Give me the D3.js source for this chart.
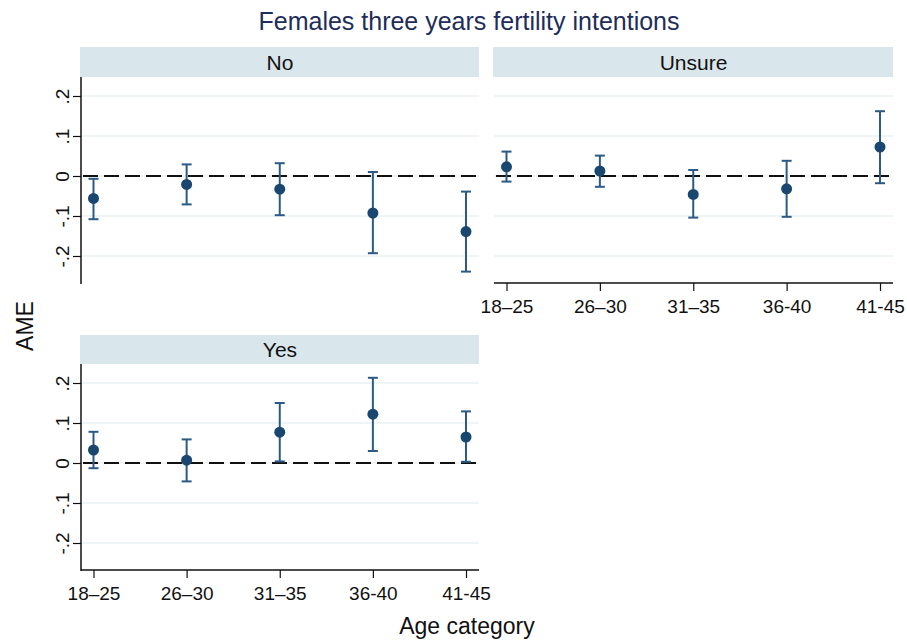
<!DOCTYPE html>
<html><head><meta charset="utf-8">
<script src="https://cdn.jsdelivr.net/npm/d3@7"></script>
<style>body{margin:0;background:#fff}svg{display:block}text{font-family:"Liberation Sans",Arial,sans-serif}</style>
</head><body><svg id="c" width="907" height="644"></svg>
<script>
const categories = ["18–25","26–30","31–35","36-40","41-45"];
const panels = ["No","Unsure","Yes"];
const ameNo = [-0.056,-0.021,-0.033,-0.0925,-0.139];
const loNo = [-0.108,-0.071,-0.098,-0.193,-0.239];
const hiNo = [-0.007,0.029,0.032,0.010,-0.039];
const ameUnsure = [0.023,0.0125,-0.046,-0.032,0.0725];
const loUnsure = [-0.014,-0.027,-0.104,-0.102,-0.018];
const hiUnsure = [0.061,0.051,0.015,0.038,0.162];
const ameYes = [0.0325,0.007,0.077,0.122,0.065];
const loYes = [-0.013,-0.046,0.004,0.030,0.003];
const hiYes = [0.078,0.059,0.150,0.213,0.129];
const yTicks = [-0.2,-0.1,0,0.1,0.2];
const yTickLabels = ["-.2","-.1","0",".1",".2"];

const svg = d3.select("#c");
const data = {
  "No": categories.map((c,i)=>({c, v:ameNo[i], lo:loNo[i], hi:hiNo[i]})),
  "Unsure": categories.map((c,i)=>({c, v:ameUnsure[i], lo:loUnsure[i], hi:hiUnsure[i]})),
  "Yes": categories.map((c,i)=>({c, v:ameYes[i], lo:loYes[i], hi:hiYes[i]}))
};
const layout = {
  "No": {x0:81, x1:479, sy:47, y0:77, y1:283, yAxis:true, xAxis:false},
  "Unsure": {x0:494, x1:893, sy:47, y0:77, y1:283, yAxis:false, xAxis:true},
  "Yes": {x0:81, x1:479, sy:335, y0:364, y1:570, yAxis:true, xAxis:true}
};

svg.append("text").attr("x",469).attr("y",30).attr("text-anchor","middle")
  .attr("font-size",25).attr("fill","#1e2d5a").text("Females three years fertility intentions");

panels.forEach(p=>{
  const L = layout[p];
  const g = svg.append("g");
  const x = d3.scalePoint().domain(categories).range([L.x0+12.5, L.x1-13]);
  const y = d3.scaleLinear().domain([-0.2675,0.2475]).range([L.y1, L.y0]);
  // strip
  g.append("rect").attr("x",L.x0-1).attr("y",L.sy).attr("width",L.x1-L.x0+1).attr("height",L.y0-L.sy).attr("fill","#d9e6ec");
  g.append("text").attr("x",(L.x0+L.x1)/2).attr("y",(L.sy+L.y0)/2+7.5).attr("text-anchor","middle")
    .attr("font-size",21).attr("fill","#111").text(p);
  // grid
  g.selectAll(".grid").data(yTicks).join("line")
    .attr("x1",L.x0).attr("x2",L.x1).attr("y1",d=>y(d)).attr("y2",d=>y(d))
    .attr("stroke","#eaf2f3").attr("stroke-width",1.5);
  // y axis
  if (L.yAxis) {
    const ya = g.append("g").attr("transform",`translate(${L.x0},0)`)
      .call(d3.axisLeft(y).tickValues(yTicks).tickSize(8).tickFormat((d,i)=>yTickLabels[i]));
    ya.select(".domain").attr("d",`M0,${L.y0}V${L.y1+1}`).attr("stroke","#111").attr("stroke-width",1.5);
    ya.selectAll(".tick line").attr("stroke","#111").attr("stroke-width",1.2);
    ya.selectAll(".tick text").attr("font-size",19).attr("fill","#111")
      .attr("x",0).attr("y",0).attr("dy",null).attr("text-anchor","middle")
      .attr("transform","translate(-12,0) rotate(-90)");
  }
  // x axis
  if (L.xAxis) {
    const xa = g.append("g").attr("transform",`translate(0,${L.y1})`)
      .call(d3.axisBottom(x).tickSize(8).tickPadding(9));
    xa.select(".domain").attr("d",`M${L.x0},0H${L.x1}`).attr("stroke","#111").attr("stroke-width",1.5);
    xa.selectAll(".tick line").attr("stroke","#111").attr("stroke-width",1.2);
    xa.selectAll(".tick text").attr("font-size",19).attr("fill","#111");
  }
  // zero line
  g.append("line").attr("x1",L.x0+2).attr("x2",L.x1).attr("y1",y(0)).attr("y2",y(0))
    .attr("stroke","#111").attr("stroke-width",2).attr("stroke-dasharray","15,6");
  // error bars
  const eb = g.selectAll(".eb").data(data[p]).join("g").attr("stroke","#2b5a85").attr("stroke-width",2);
  eb.append("line").attr("x1",d=>x(d.c)).attr("x2",d=>x(d.c)).attr("y1",d=>y(d.lo)).attr("y2",d=>y(d.hi));
  eb.append("line").attr("x1",d=>x(d.c)-5).attr("x2",d=>x(d.c)+5).attr("y1",d=>y(d.lo)).attr("y2",d=>y(d.lo));
  eb.append("line").attr("x1",d=>x(d.c)-5).attr("x2",d=>x(d.c)+5).attr("y1",d=>y(d.hi)).attr("y2",d=>y(d.hi));
  g.selectAll(".pt").data(data[p]).join("circle").attr("cx",d=>x(d.c)).attr("cy",d=>y(d.v)).attr("r",5.5).attr("fill","#1a476f");
});

svg.append("text").attr("transform","translate(33,326) rotate(-90)").attr("text-anchor","middle")
  .attr("font-size",23).attr("fill","#111").text("AME");
svg.append("text").attr("x",467).attr("y",634).attr("text-anchor","middle")
  .attr("font-size",23).attr("fill","#111").text("Age category");
</script></body></html>
